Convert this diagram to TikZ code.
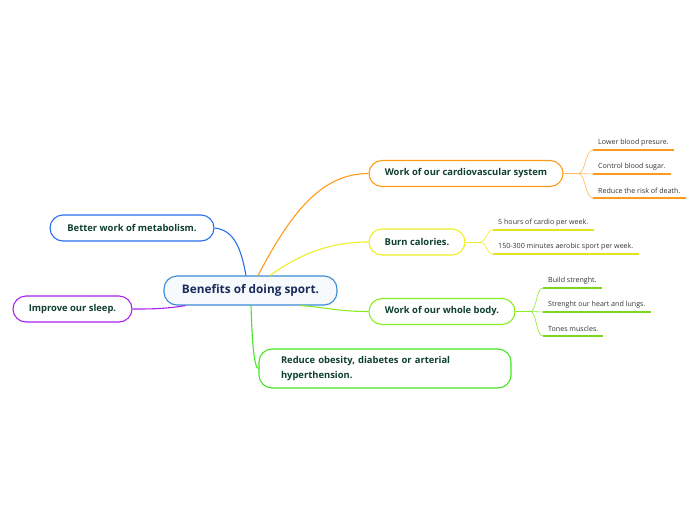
\documentclass[tikz,border=0pt]{standalone}
\usepackage{fontspec}
\setmainfont{Open Sans}
\definecolor{cblue}{HTML}{2A6EF0}
\definecolor{corange}{HTML}{FF9A1A}
\definecolor{cyellow}{HTML}{EEEE22}
\definecolor{clime}{HTML}{88EE22}
\definecolor{cgreen}{HTML}{44E622}
\definecolor{cpurple}{HTML}{AA22EE}
\definecolor{ccentral}{HTML}{3A8AD6}
\definecolor{ctext}{HTML}{0F4030}
\definecolor{cnavy}{HTML}{1A2A5A}
\definecolor{cleaf}{HTML}{333333}
\tikzset{
  branch/.style={draw, rounded corners=13pt, line width=1.1pt, fill=white, text=ctext,
    font=\fontsize{9.4}{15}\selectfont\bfseries, minimum height=26pt, inner xsep=0pt},
  central/.style={draw=ccentral, rounded corners=13pt, line width=1.1pt, fill={rgb,255:red,246;green,250;blue,253},
    text=cnavy, font=\fontsize{11.8}{14}\selectfont\bfseries, minimum height=29pt, minimum width=173pt},
  leaf/.style={anchor=south west, inner xsep=5pt, inner ysep=4pt, text=cleaf,
    font=\fontsize{7.1}{8}\selectfont},
  conn/.style={line width=1.1pt},
  leafconn/.style={line width=0.6pt},
  uline/.style={line width=1.6pt},
}
\begin{document}
\begin{tikzpicture}[x=1pt,y=-1pt]
\useasboundingbox (0,0) rectangle (696,520);
% main nodes
\node[central] (c) at (250.5,290.5) {Benefits of doing sport.};
\node[branch, draw=cblue, minimum width=164pt] (met) at (132,228) {Better work of metabolism.};
\node[branch, draw=cpurple, minimum width=119pt] (slp) at (72.5,309) {Improve our sleep.};
\node[branch, draw=corange, minimum width=194pt] (cv) at (466,173.5) {Work of our cardiovascular system};
\node[branch, draw=cyellow, minimum width=96pt] (burn) at (417,242) {Burn calories.};
\node[branch, draw=clime, minimum width=146pt] (body) at (442,311.5) {Work of our whole body.};
\node[branch, draw=cgreen, minimum width=252pt, minimum height=39pt, inner xsep=22pt, text width=208pt, align=left] (obe) at (385,368.5) {Reduce obesity, diabetes or arterial\\hyperthension.};
% connector start points on central node
\coordinate (cb) at ([xshift=-4.5pt]c.north);
\coordinate (co) at ([xshift=7.5pt]c.north);
\coordinate (cy) at ([xshift=19.5pt]c.north);
\coordinate (cl) at ([xshift=50pt]c.south);
\coordinate (cg) at ([xshift=0.5pt]c.south);
\coordinate (cp) at ([xshift=-65pt]c.south);
% main connectors
\draw[conn, cblue] (cb) .. controls (241,248) and (234,230) .. (met.east);
\draw[conn, corange] (co) .. controls (290,215) and (320,173.5) .. (cv.west);
\draw[conn, cyellow] (cy) .. controls (300,254) and (330,242) .. (burn.west);
\draw[conn, clime] (cl) .. controls (330,308) and (340,311.5) .. (body.west);
\draw[conn, cgreen] (cg) .. controls (252,340) and (254,368.5) .. (obe.west);
\draw[conn, cpurple] (cp) .. controls (165,309) and (150,309) .. (slp.east);
% leaves: cardiovascular
\node[leaf] (l1) at (593,150) {Lower blood presure.};
\node[leaf] (l2) at (593,174) {Control blood sugar.};
\node[leaf] (l3) at (593,198) {Reduce the risk of death.};
\foreach \l in {l1,l2,l3}{\draw[uline, corange] (\l.south west) -- (\l.south east);}
\coordinate (f1) at ([xshift=15pt]cv.east);
\draw[leafconn, corange!70] (cv.east) -- (f1);
\foreach \l in {l1,l2,l3}{\draw[leafconn, corange!70] (f1) .. controls +(7,0) and +(-8,0) .. (\l.south west);}
% leaves: burn calories
\node[leaf] (l4) at (493,230) {5 hours of cardio per week.};
\node[leaf] (l5) at (493,254) {150-300 minutes aerobic sport per week.};
\foreach \l in {l4,l5}{\draw[uline, cyellow!95!black] (\l.south west) -- (\l.south east);}
\coordinate (f2) at ([xshift=15pt]burn.east);
\draw[leafconn, cyellow] (burn.east) -- (f2);
\foreach \l in {l4,l5}{\draw[leafconn, cyellow] (f2) .. controls +(6,0) and +(-7,0) .. (\l.south west);}
% leaves: whole body
\node[leaf] (l6) at (543,288) {Build strenght.};
\node[leaf] (l7) at (543,312) {Strenght our heart and lungs.};
\node[leaf] (l8) at (543,336) {Tones muscles.};
\foreach \l in {l6,l7,l8}{\draw[uline, clime!90!black] (\l.south west) -- (\l.south east);}
\coordinate (f3) at ([xshift=15pt]body.east);
\draw[leafconn, clime] (body.east) -- (f3);
\foreach \l in {l6,l7,l8}{\draw[leafconn, clime] (f3) .. controls +(6,0) and +(-7,0) .. (\l.south west);}
\end{tikzpicture}
\end{document}
